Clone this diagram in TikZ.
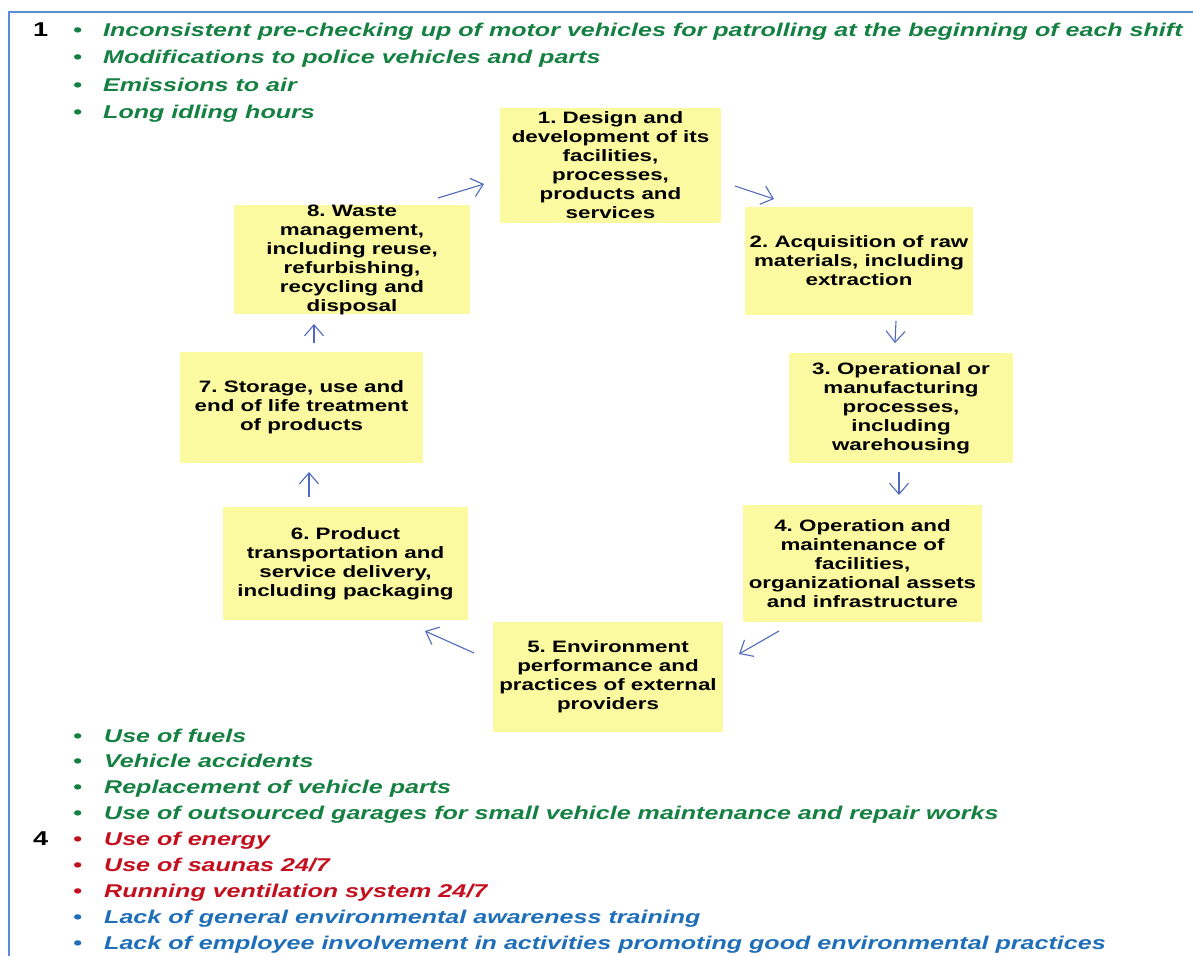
\documentclass[tikz,border=0pt]{standalone}
\usepackage{fontspec}
\setmainfont{Liberation Sans}[FakeStretch=1.355]
\usetikzlibrary{arrows.meta}

\definecolor{boxyellow}{RGB}{252,250,160}
\definecolor{aspgreen}{RGB}{20,128,65}
\definecolor{aspred}{RGB}{195,15,30}
\definecolor{aspblue}{RGB}{30,110,185}
\definecolor{flowblue}{RGB}{80,105,190}
\definecolor{framecol}{RGB}{90,140,215}

\newcommand{\listfont}{\fontsize{18.5}{20}\selectfont\bfseries\itshape}
\newcommand{\boxfont}{\fontsize{16.5}{19}\selectfont\bfseries}
\newcommand{\numfont}{\fontsize{20}{20}\selectfont\bfseries}

\tikzset{
  stagebox/.style={fill=boxyellow, draw=none, inner sep=0pt, align=center,
                   font=\boxfont, text=black},
  listitem/.style={anchor=base west, inner sep=0pt, font=\listfont},
  groupnum/.style={anchor=base west, inner sep=0pt, font=\numfont, text=black},
  flow/.style={draw=flowblue, line width=1.1pt,
               -{Straight Barb[length=11pt,width=19pt,line width=1.1pt]}},
}

\begin{document}
\frenchspacing
\begin{tikzpicture}[x=1pt,y=-1pt]
\useasboundingbox (0,0) rectangle (1193,956);
\fill[white] (0,0) rectangle (1193,956);

% frame (top and left edges)
\draw[framecol, line width=1.8pt] (9,956) -- (9,12) -- (1193,12);

% life-cycle stages
\node[stagebox, minimum width=221pt, minimum height=115pt] (b1) at (610.5,165.5)
  {1. Design and\\development of its\\facilities,\\processes,\\products and\\services};
\node[stagebox, minimum width=228pt, minimum height=108pt] (b2) at (859,261)
  {2. Acquisition of raw\\materials, including\\extraction};
\node[stagebox, minimum width=224pt, minimum height=110pt] (b3) at (901,408)
  {3. Operational or\\manufacturing\\processes,\\including\\warehousing};
\node[stagebox, minimum width=239pt, minimum height=117pt] (b4) at (862.5,563.5)
  {4. Operation and\\maintenance of\\facilities,\\organizational assets\\and infrastructure};
\node[stagebox, minimum width=230pt, minimum height=110pt] (b5) at (608,677)
  {5. Environment\\performance and\\practices of external\\providers};
\node[stagebox, minimum width=245pt, minimum height=113pt] (b6) at (345.5,563.5)
  {6. Product\\transportation and\\service delivery,\\including packaging};
\node[stagebox, minimum width=243pt, minimum height=111pt] (b7) at (301.5,407.5)
  {7. Storage, use and\\end of life treatment\\of products};
\node[stagebox, minimum width=236pt, minimum height=107pt] (b8) at (352,259.5)
  {8. Waste\\management,\\including reuse,\\refurbishing,\\recycling and\\disposal};

% arrows between the stages
\coordinate (a81s) at (438,198); \coordinate (a81e) at (484,184);
\coordinate (a12s) at (735,186); \coordinate (a12e) at (774,199);
\coordinate (a23s) at (896,321); \coordinate (a23e) at (895,343);
\coordinate (a34s) at (899,472); \coordinate (a34e) at (899,495);
\coordinate (a45s) at (779,631); \coordinate (a45e) at (739,654);
\coordinate (a56s) at (474,653); \coordinate (a56e) at (425,631);
\coordinate (a67s) at (309,497); \coordinate (a67e) at (309,472);
\coordinate (a78s) at (314,343); \coordinate (a78e) at (314,324);
\foreach \s/\e in {a81s/a81e,a12s/a12e,a23s/a23e,a34s/a34e,
                   a45s/a45e,a56s/a56e,a67s/a67e,a78s/a78e}
  \draw[flow] (\s) -- (\e);

% group numbers
\node[groupnum] (n1) at (33,36) {1};
\node[groupnum] (n4) at (33,845) {4};

% aspects listed above the cycle
\foreach \y/\t [count=\i] in {
  36/{Inconsistent pre-checking up of motor vehicles for patrolling at the beginning of each shift},
  63.5/{Modifications to police vehicles and parts},
  91/{Emissions to air},
  118.5/{Long idling hours}}{
  \node[listitem, text=aspgreen] (tb\i) at (73,\y) {•};
  \node[listitem, text=aspgreen] (t\i) at (103,\y) {\t};
}

% aspects listed below the cycle
\foreach \y/\c/\t [count=\i] in {
  742/aspgreen/{Use of fuels},
  767.9/aspgreen/{Vehicle accidents},
  793.8/aspgreen/{Replacement of vehicle parts},
  819.7/aspgreen/{Use of outsourced garages for small vehicle maintenance and repair works},
  845.6/aspred/{Use of energy},
  871.5/aspred/{Use of saunas 24/7},
  897.4/aspred/{Running ventilation system 24/7},
  923.3/aspblue/{Lack of general environmental awareness training},
  949.2/aspblue/{Lack of employee involvement in activities promoting good environmental practices}}{
  \node[listitem, text=\c] (ub\i) at (73,\y) {•};
  \node[listitem, text=\c] (u\i) at (104,\y) {\t};
}
\end{tikzpicture}
\end{document}
